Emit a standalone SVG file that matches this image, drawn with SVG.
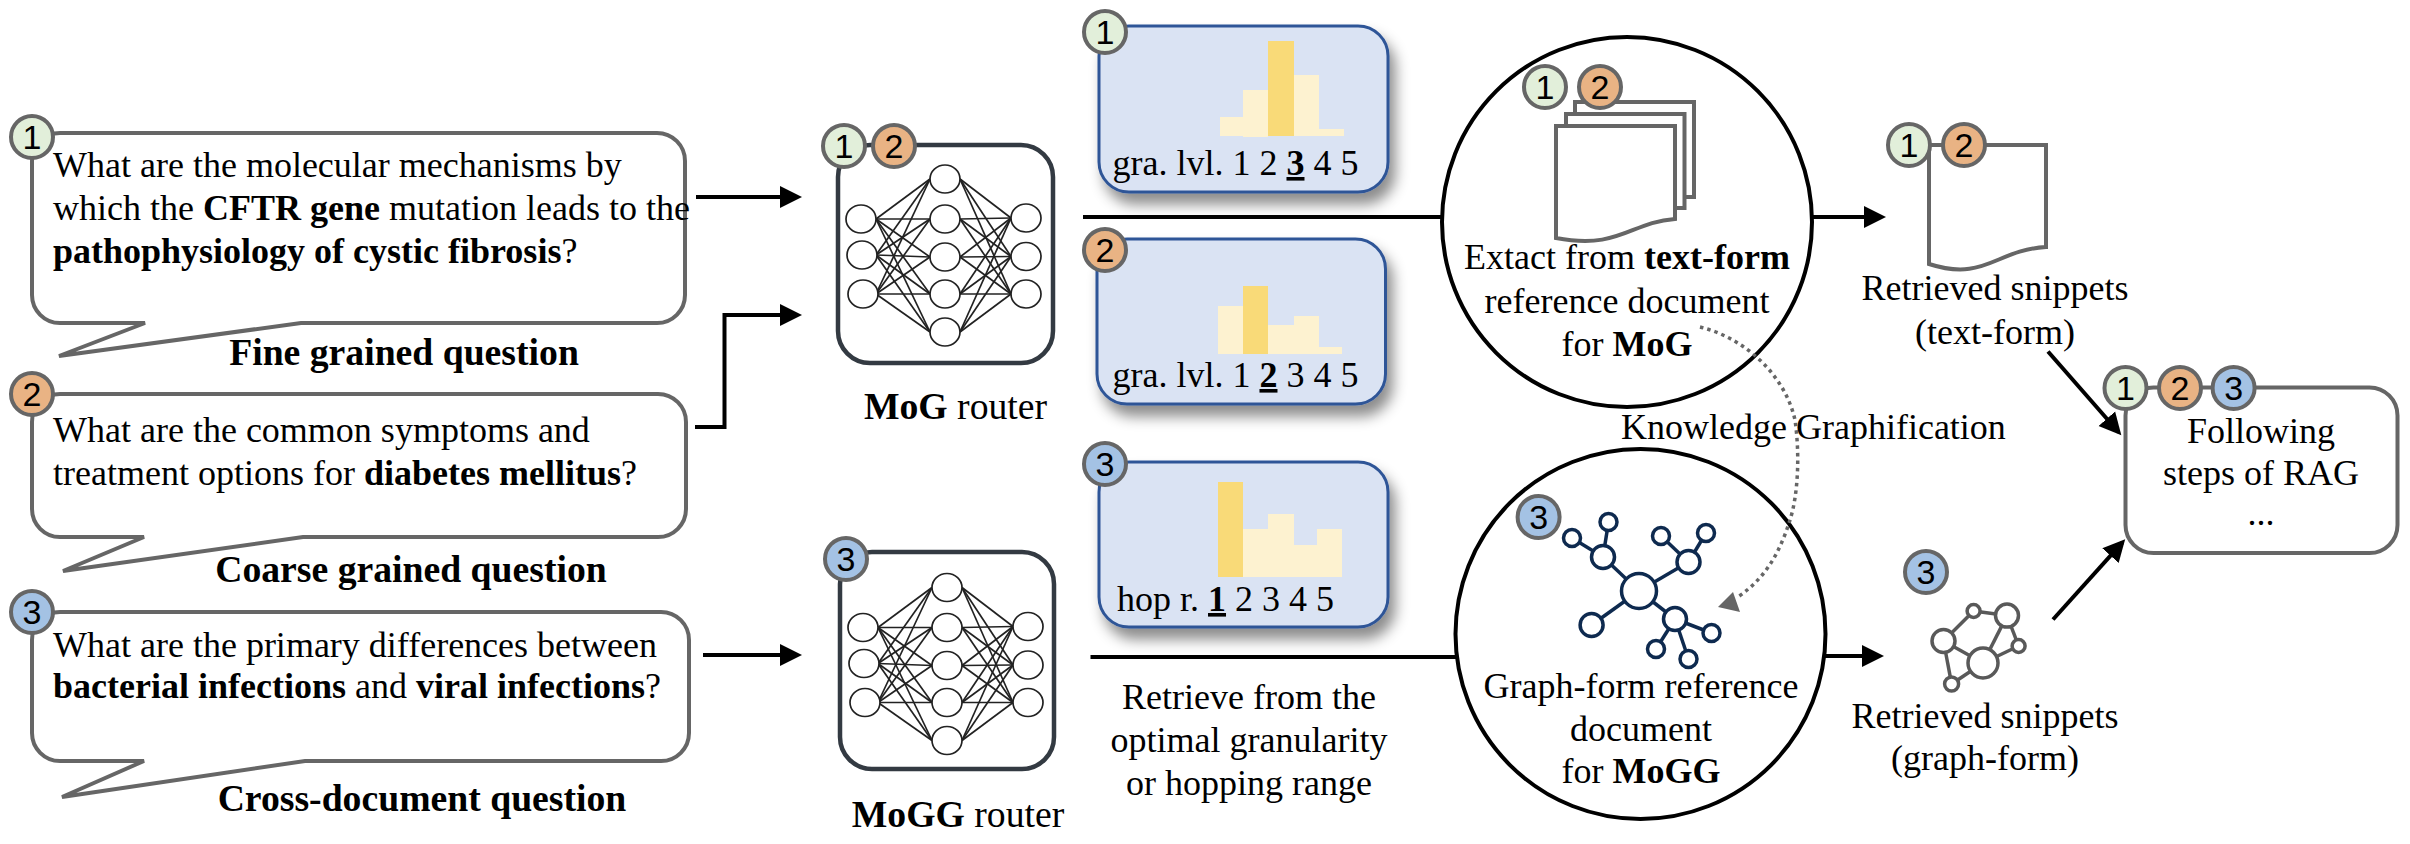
<svg xmlns="http://www.w3.org/2000/svg" width="2410" height="844" viewBox="0 0 2410 844">
<style>
text{font-family:"Liberation Serif","Times New Roman",serif;font-size:36px;fill:#000}
.c{text-anchor:middle}
.bd{font-weight:bold}
.hd{font-weight:bold;font-size:37.7px}
.rl{font-size:37.7px}
.u{font-weight:bold;text-decoration:underline}
.bub{fill:#fff;stroke:#666;stroke-width:4;stroke-linejoin:miter}
.rt{fill:#fff;stroke:#333a42;stroke-width:4.5}
.pan{fill:#dae3f3;stroke:#2f5597;stroke-width:3;filter:url(#sh)}
.lo{fill:#fdf2d0}
.hi{fill:#f9da78}
.bg circle{stroke:#666;stroke-width:4}
.bg text{font-family:"Liberation Sans",Arial,sans-serif;font-size:34px;text-anchor:middle}
.g1{fill:#e2efda}.g2{fill:#e9b384}.g3{fill:#a4c2e4}
.big{fill:#fff;stroke:#000;stroke-width:4}
.doc{fill:#fff;stroke:#666;stroke-width:4}
.nn line{stroke:#222;stroke-width:1.7}
.nn ellipse{fill:#fff;stroke:#222;stroke-width:1.7}
.kg line{stroke:#0e2a4f;stroke-width:3.5}
.kg circle{fill:#fff;stroke:#0e2a4f;stroke-width:3.5}
.sg line{stroke:#595959;stroke-width:3.5}
.sg circle{fill:#fff;stroke:#595959;stroke-width:3.5}
.arr{fill:none;stroke:#000;stroke-width:4;marker-end:url(#ah)}
.ln{fill:none;stroke:#000;stroke-width:4}
.dot{fill:none;stroke:#666;stroke-width:3.5;stroke-dasharray:3.5 4}
</style>
<defs>
<filter id="sh" x="-15%" y="-15%" width="135%" height="145%"><feDropShadow dx="6" dy="11" stdDeviation="7" flood-color="#000" flood-opacity="0.45"/></filter>
<marker id="ah" markerUnits="userSpaceOnUse" markerWidth="26" markerHeight="26" refX="18" refY="13" orient="auto" viewBox="0 0 26 26"><path d="M0,2 L22,13 L0,24 z" fill="#000"/></marker>
<g id="nn" class="nn">
<line x1="876" y1="219" x2="930" y2="179"/><line x1="876" y1="219" x2="930" y2="219"/><line x1="876" y1="219" x2="930" y2="257"/><line x1="876" y1="219" x2="930" y2="294"/><line x1="876" y1="219" x2="930" y2="332"/>
<line x1="876" y1="255" x2="930" y2="179"/><line x1="876" y1="255" x2="930" y2="219"/><line x1="876" y1="255" x2="930" y2="257"/><line x1="876" y1="255" x2="930" y2="294"/><line x1="876" y1="255" x2="930" y2="332"/>
<line x1="876" y1="294" x2="930" y2="179"/><line x1="876" y1="294" x2="930" y2="219"/><line x1="876" y1="294" x2="930" y2="257"/><line x1="876" y1="294" x2="930" y2="294"/><line x1="876" y1="294" x2="930" y2="332"/>
<line x1="960" y1="179" x2="1011" y2="218"/><line x1="960" y1="179" x2="1011" y2="256.5"/><line x1="960" y1="179" x2="1011" y2="294"/>
<line x1="960" y1="219" x2="1011" y2="218"/><line x1="960" y1="219" x2="1011" y2="256.5"/><line x1="960" y1="219" x2="1011" y2="294"/>
<line x1="960" y1="257" x2="1011" y2="218"/><line x1="960" y1="257" x2="1011" y2="256.5"/><line x1="960" y1="257" x2="1011" y2="294"/>
<line x1="960" y1="294" x2="1011" y2="218"/><line x1="960" y1="294" x2="1011" y2="256.5"/><line x1="960" y1="294" x2="1011" y2="294"/>
<line x1="960" y1="332" x2="1011" y2="218"/><line x1="960" y1="332" x2="1011" y2="256.5"/><line x1="960" y1="332" x2="1011" y2="294"/>
<ellipse cx="861" cy="219" rx="15" ry="14"/><ellipse cx="862" cy="255" rx="15" ry="14"/><ellipse cx="863" cy="294" rx="15" ry="14"/>
<ellipse cx="945" cy="179" rx="15" ry="14"/><ellipse cx="945" cy="219" rx="15" ry="14"/><ellipse cx="945" cy="257" rx="15" ry="14"/><ellipse cx="945" cy="294" rx="15" ry="14"/><ellipse cx="945" cy="332" rx="15" ry="14"/>
<ellipse cx="1026" cy="218" rx="15" ry="14"/><ellipse cx="1026" cy="256.5" rx="15" ry="14"/><ellipse cx="1026" cy="294" rx="15" ry="14"/>
</g>
<g id="b1" class="bg"><circle r="21" class="g1"/><text y="12">1</text></g>
<g id="b2" class="bg"><circle r="21" class="g2"/><text y="12">2</text></g>
<g id="b3" class="bg"><circle r="21" class="g3"/><text y="12">3</text></g>
</defs>
<rect width="2410" height="844" fill="#fff"/>

<g id="q1">
<path class="bub" d="M60,133 H657 A28,28 0 0 1 685,161 V295 A28,28 0 0 1 657,323 H301 L59,356 L145,323 H60 A28,28 0 0 1 32,295 V161 A28,28 0 0 1 60,133 Z"/>
<use href="#b1" x="32" y="137"/>
<text x="53" y="177">What are the molecular mechanisms by</text>
<text x="53" y="220">which the <tspan class="bd">CFTR gene</tspan> mutation leads to the</text>
<text x="53" y="263"><tspan class="bd">pathophysiology of cystic fibrosis</tspan>?</text>
<text class="hd c" x="404" y="365">Fine grained question</text>
</g>
<g id="q2">
<path class="bub" d="M60,394 H658 A28,28 0 0 1 686,422 V509 A28,28 0 0 1 658,537 H303 L63,571 L144,537 H60 A28,28 0 0 1 32,509 V422 A28,28 0 0 1 60,394 Z"/>
<use href="#b2" x="32" y="394"/>
<text x="53" y="442">What are the common symptoms and</text>
<text x="53" y="485">treatment options for <tspan class="bd">diabetes mellitus</tspan>?</text>
<text class="hd c" x="411" y="582">Coarse grained question</text>
</g>
<g id="q3">
<path class="bub" d="M60,612 H661 A28,28 0 0 1 689,640 V733 A28,28 0 0 1 661,761 H305 L62,797 L144,761 H60 A28,28 0 0 1 32,733 V640 A28,28 0 0 1 60,612 Z"/>
<use href="#b3" x="32" y="612"/>
<text x="53" y="657">What are the primary differences between</text>
<text x="53" y="698"><tspan class="bd">bacterial infections</tspan> and <tspan class="bd">viral infections</tspan>?</text>
<text class="hd c" x="422" y="811">Cross-document question</text>
</g>

<g id="mog-router">
<rect class="rt" x="838" y="145" width="215" height="218" rx="32"/>
<use href="#nn"/>
<use href="#b1" x="844" y="146"/><use href="#b2" x="894" y="146"/>
<text class="rl c" x="955.5" y="419"><tspan class="bd">MoG</tspan> router</text>
</g>
<g id="mogg-router">
<rect class="rt" x="840" y="552" width="214" height="217" rx="32"/>
<use href="#nn" x="2" y="408.5"/>
<use href="#b3" x="846" y="559"/>
<text class="rl c" x="958" y="827"><tspan class="bd">MoGG</tspan> router</text>
</g>

<g id="panel1">
<rect class="pan" x="1099" y="26" width="289" height="166" rx="30"/>
<rect class="lo" x="1220" y="117" width="23" height="19"/><rect class="lo" x="1243" y="90" width="25" height="47"/><rect class="hi" x="1268" y="41" width="26" height="95"/><rect class="lo" x="1294" y="75" width="25" height="61"/><rect class="lo" x="1319" y="129" width="25" height="7"/>
<use href="#b1" x="1105" y="32"/>
<text x="1112.5" y="175">gra. lvl. 1 2 <tspan class="u">3</tspan> 4 5</text>
</g>
<g id="panel2">
<rect class="pan" x="1097" y="239" width="288.5" height="165" rx="30"/>
<rect class="lo" x="1218" y="306" width="25" height="48"/><rect class="hi" x="1243" y="286" width="25" height="68"/><rect class="lo" x="1268" y="325" width="26" height="29"/><rect class="lo" x="1294" y="316" width="25" height="38"/><rect class="lo" x="1319" y="347" width="23" height="7"/>
<use href="#b2" x="1105" y="250"/>
<text x="1112.5" y="387">gra. lvl. 1 <tspan class="u">2</tspan> 3 4 5</text>
</g>
<g id="panel3">
<rect class="pan" x="1099" y="462" width="289" height="165" rx="30"/>
<rect class="hi" x="1218" y="482" width="25" height="95"/><rect class="lo" x="1243" y="529" width="25" height="48"/><rect class="lo" x="1268" y="514" width="26" height="63"/><rect class="lo" x="1294" y="545" width="23" height="32"/><rect class="lo" x="1317" y="529" width="25" height="48"/>
<use href="#b3" x="1105" y="464"/>
<text x="1117" y="611">hop r. <tspan class="u">1</tspan> 2 3 4 5</text>
</g>

<g id="text-doc">
<circle class="big" cx="1627" cy="222" r="185"/>
<path class="doc" d="M1575,102 H1694 V197 H1680 V125 H1575 Z"/>
<path class="doc" d="M1566,114 H1684.5 V208 H1670 V130 H1566 Z"/>
<path class="doc" d="M1556,126 H1675 V219 C1630,222 1620,250 1556,238 Z"/>
<use href="#b1" x="1545" y="87"/><use href="#b2" x="1600" y="87"/>
<text class="c" x="1627" y="269">Extact from <tspan class="bd">text-form</tspan></text>
<text class="c" x="1627" y="313">reference document</text>
<text class="c" x="1627" y="356">for <tspan class="bd">MoG</tspan></text>
</g>
<g id="graph-doc">
<circle class="big" cx="1640.5" cy="634" r="185"/>
<g class="kg">
<line x1="1639" y1="591" x2="1603" y2="557"/><line x1="1603" y1="557" x2="1608.5" y2="522"/><line x1="1603" y1="557" x2="1572" y2="538"/>
<line x1="1639" y1="591" x2="1688.5" y2="562"/><line x1="1688.5" y1="562" x2="1661" y2="536"/><line x1="1688.5" y1="562" x2="1706" y2="533"/>
<line x1="1639" y1="591" x2="1675" y2="619"/><line x1="1675" y1="619" x2="1711.5" y2="633"/><line x1="1675" y1="619" x2="1688.5" y2="659"/><line x1="1675" y1="619" x2="1656" y2="649"/>
<line x1="1639" y1="591" x2="1591.6" y2="625"/>
<circle cx="1639" cy="591" r="17.5"/><circle cx="1603" cy="557" r="11.5"/><circle cx="1608.5" cy="522" r="8.5"/><circle cx="1572" cy="538" r="8.5"/><circle cx="1688.5" cy="562" r="11.5"/><circle cx="1661" cy="536" r="8.5"/><circle cx="1706" cy="533" r="8.5"/><circle cx="1675" cy="619" r="11.5"/><circle cx="1711.5" cy="633" r="8.5"/><circle cx="1688.5" cy="659" r="8.5"/><circle cx="1656" cy="649" r="8.5"/><circle cx="1591.6" cy="625" r="11.5"/>
</g>
<use href="#b3" x="1538.6" y="517"/>
<text class="c" x="1641" y="698">Graph-form reference</text>
<text class="c" x="1641" y="741">document</text>
<text class="c" x="1641" y="783">for <tspan class="bd">MoGG</tspan></text>
</g>
<text id="label-retrieve" class="c" x="1249"><tspan x="1249" y="709">Retrieve from the</tspan><tspan x="1249" y="752">optimal granularity</tspan><tspan x="1249" y="795">or hopping range</tspan></text>
<text id="label-kg" x="1621" y="439">Knowledge Graphification</text>

<g id="snip-text">
<path class="doc" d="M1929,145 H2046 V247 C1995,250 1985,282 1929,264 Z"/>
<use href="#b1" x="1909" y="145"/><use href="#b2" x="1964" y="145"/>
<text class="c" x="1995" y="300">Retrieved snippets</text>
<text class="c" x="1995" y="344">(text-form)</text>
</g>
<g id="snip-graph">
<g class="sg">
<line x1="1943.5" y1="641" x2="1973.6" y2="611"/><line x1="1973.6" y1="611" x2="2007" y2="615.6"/><line x1="1943.5" y1="641" x2="1983" y2="663"/><line x1="2007" y1="615.6" x2="1983" y2="663"/><line x1="1983" y1="663" x2="2018.6" y2="646"/><line x1="2007" y1="615.6" x2="2018.6" y2="646"/><line x1="1943.5" y1="641" x2="1951.6" y2="684"/><line x1="1951.6" y1="684" x2="1983" y2="663"/>
<circle cx="1973.6" cy="611" r="6.5"/><circle cx="2007" cy="615.6" r="11.5"/><circle cx="1943.5" cy="641" r="11.5"/><circle cx="1983" cy="663" r="15"/><circle cx="2018.6" cy="646" r="6.5"/><circle cx="1951.6" cy="684" r="7"/>
</g>
<use href="#b3" x="1926" y="572"/>
<text class="c" x="1985" y="727.5">Retrieved snippets</text>
<text class="c" x="1985" y="770">(graph-form)</text>
</g>
<g id="following">
<rect class="bub" x="2125.5" y="387.5" width="272" height="165.5" rx="28"/>
<use href="#b1" x="2125.5" y="388"/><use href="#b2" x="2180" y="388"/><use href="#b3" x="2233.6" y="388"/>
<text class="c" x="2261" y="442.5">Following</text>
<text class="c" x="2261" y="485">steps of RAG</text>
<text class="c" x="2261" y="525">...</text>
</g>

<g id="connectors">
<line class="arr" x1="696" y1="197" x2="798" y2="197"/>
<path class="arr" d="M695,427 H724.5 V315 H798"/>
<line class="arr" x1="703" y1="655" x2="798" y2="655"/>
<line class="ln" x1="1083" y1="217" x2="1442" y2="217"/>
<line class="arr" x1="1812" y1="217" x2="1882" y2="217"/>
<line class="ln" x1="1090.5" y1="657" x2="1456" y2="657"/>
<line class="arr" x1="1825" y1="656" x2="1880" y2="656"/>
<line class="arr" x1="2048" y1="351.5" x2="2118.7" y2="432.2"/>
<line class="arr" x1="2053" y1="619.5" x2="2122.5" y2="542.3"/>
<path class="dot" d="M1700,327 C1745,338 1785,375 1795,420 C1800,455 1798,495 1790,520 C1782,545 1770,575 1738,597"/>
<polygon points="1718,607 1733,592 1740,612" fill="#666"/>
</g>
</svg>
